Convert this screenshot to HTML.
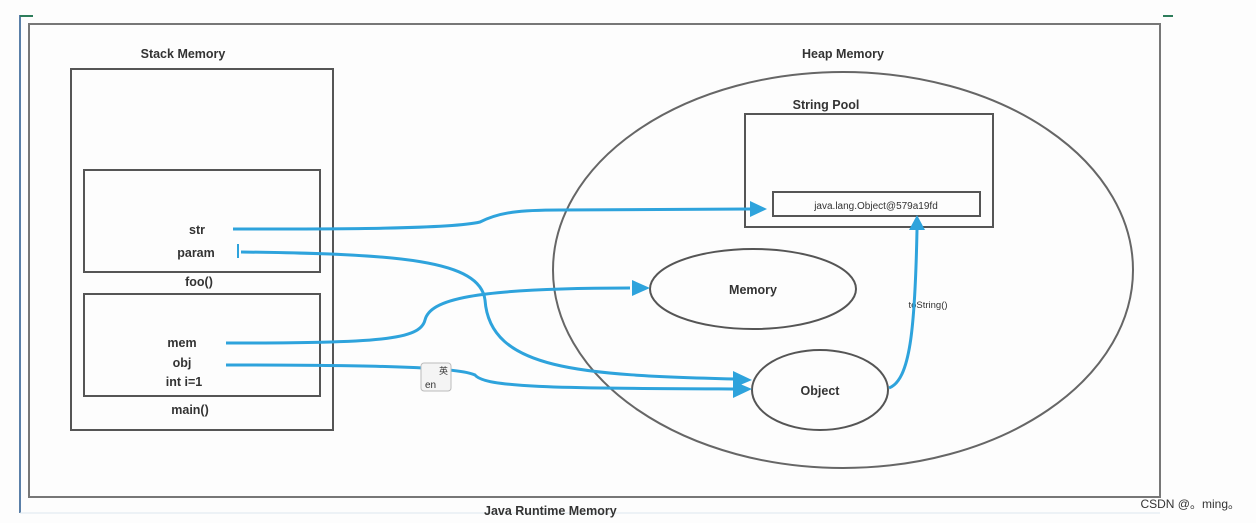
<!DOCTYPE html>
<html><head><meta charset="utf-8"><style>
html,body{margin:0;padding:0;background:#fff;}
svg{display:block;}
text{font-family:"Liberation Sans",sans-serif;fill:#333;}
.b{font-weight:bold;}
.n{font-weight:normal;}
</style></head><body>
<svg width="1256" height="523" viewBox="0 0 1256 523" xmlns="http://www.w3.org/2000/svg">
<rect width="1256" height="523" fill="#fdfdfd"/>
<line x1="20" y1="15" x2="20" y2="513" stroke="#5a7fa8" stroke-width="2"/>
<line x1="20" y1="16" x2="33" y2="16" stroke="#2e7d5b" stroke-width="2"/>
<line x1="1163" y1="16" x2="1173" y2="16" stroke="#2e7d5b" stroke-width="2"/>
<line x1="20" y1="513" x2="1160" y2="513" stroke="#dde8ee" stroke-width="1"/>
<rect x="29" y="24" width="1131" height="473" fill="none" stroke="#777" stroke-width="2"/>
<text class="b" x="183" y="58" font-size="12.5" text-anchor="middle" fill="#3a4558">Stack Memory</text>
<rect x="71" y="69" width="262" height="361" fill="none" stroke="#555" stroke-width="2"/>
<rect x="84" y="170" width="236" height="102" fill="none" stroke="#555" stroke-width="2"/>
<rect x="84" y="294" width="236" height="102" fill="none" stroke="#555" stroke-width="2"/>
<g font-size="12.5" text-anchor="middle" class="b">
<text class="b" x="197" y="234">str</text>
<text class="b" x="196" y="257">param</text>
<text class="b" x="199" y="286">foo()</text>
<text class="b" x="182" y="347">mem</text>
<text class="b" x="182" y="367">obj</text>
<text class="b" x="184" y="386">int i=1</text>
<text class="b" x="190" y="414">main()</text>
</g>
<text class="b" x="843" y="58" font-size="12.5" text-anchor="middle" fill="#3a4558">Heap Memory</text>
<ellipse cx="843" cy="270" rx="290" ry="198" fill="none" stroke="#666" stroke-width="2"/>
<text class="b" x="826" y="109" font-size="12.5" text-anchor="middle" fill="#3a4558">String Pool</text>
<rect x="745" y="114" width="248" height="113" fill="none" stroke="#555" stroke-width="2"/>
<rect x="773" y="192" width="207" height="24" fill="none" stroke="#555" stroke-width="2"/>
<text class="n" x="876" y="209" font-size="10" text-anchor="middle" fill="#444">java.lang.Object@579a19fd</text>
<ellipse cx="753" cy="289" rx="103" ry="40" fill="none" stroke="#555" stroke-width="2"/>
<text class="b" x="753" y="294" font-size="12.5" text-anchor="middle">Memory</text>
<ellipse cx="820" cy="390" rx="68" ry="40" fill="none" stroke="#555" stroke-width="2"/>
<text class="b" x="820" y="395" font-size="12.5" text-anchor="middle">Object</text>
<text class="n" x="928" y="308" font-size="9.5" text-anchor="middle" fill="#345">toString()</text>
<g fill="none" stroke="#2ea3dc" stroke-width="3">
<path d="M233,229 C340,229 450,229 480,222 C500,212 520,210 560,210 L750,209"/>
<path d="M241,252 C400,254 480,260 485,300 C490,370 580,375 735,379"/>
<path d="M226,343 C380,343 420,340 425,320 C430,300 470,288 630,288"/>
<path d="M226,365 C400,365 460,368 475,375 C485,388 560,388 735,389"/>
<path d="M889,388 C910,380 915,330 917,230"/>
</g>
<line x1="238" y1="244" x2="238" y2="258" stroke="#2ea3dc" stroke-width="2"/>
<g fill="#2ea3dc">
<polygon points="750,201 767,209 750,217"/>
<polygon points="632,280 650,288 632,296"/>
<polygon points="733,371 752,380 733,388"/>
<polygon points="733,381 752,389 733,398"/>
<polygon points="909,230 917,215 925,230"/>
</g>
<rect x="421" y="363" width="30" height="28" rx="3" fill="#f4f4f4" stroke="#bbb"/>
<text class="n" x="425" y="388" font-size="10" fill="#333">en</text>
<text class="n" x="439" y="374" font-size="9" fill="#333" style="font-family:'Noto Sans CJK SC',sans-serif">英</text>
<text class="b" x="484" y="515" font-size="12.5" fill="#3a4558">Java Runtime Memory</text>
<text class="n" x="1240" y="508" font-size="12" text-anchor="end" fill="#555" style="font-family:'Liberation Sans','Noto Sans CJK SC',sans-serif">CSDN @。ming。</text>
</svg>
</body></html>
